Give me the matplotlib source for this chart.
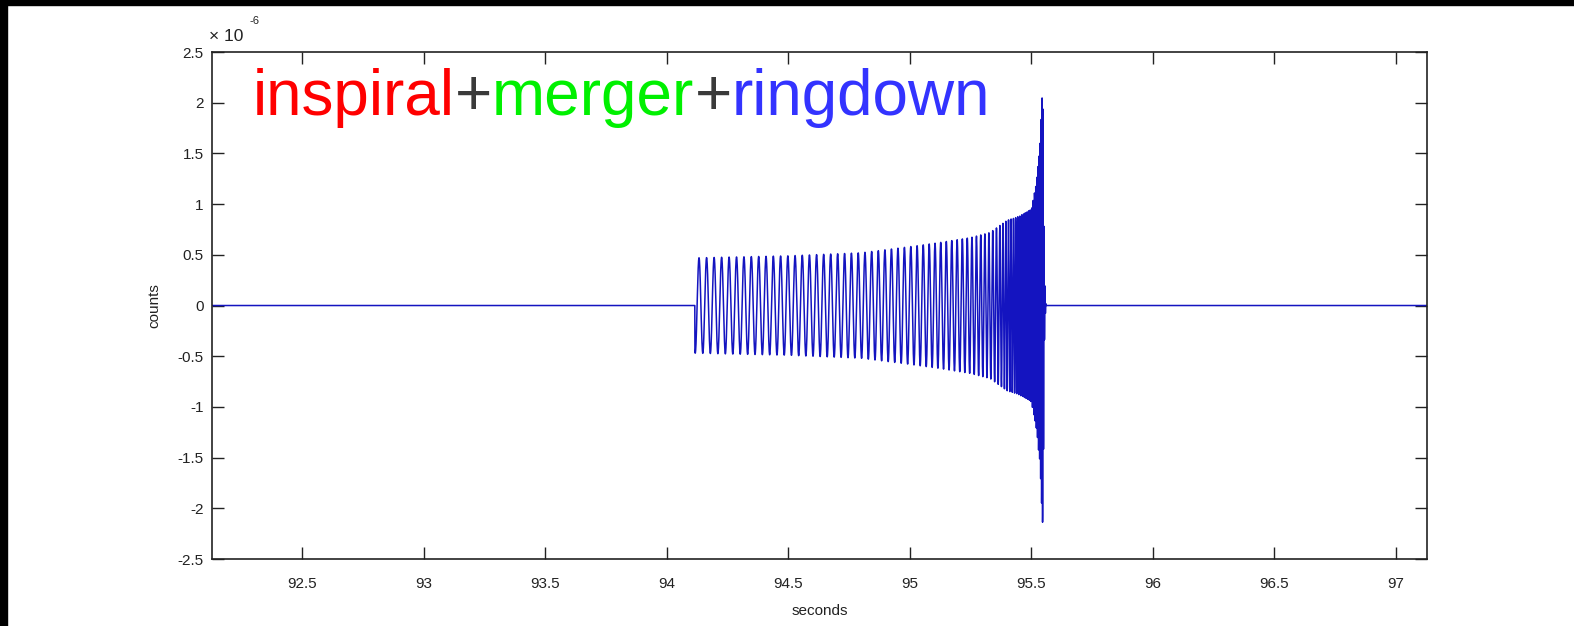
import numpy as np
import matplotlib
matplotlib.use("Agg")
from matplotlib import pyplot as plt
from matplotlib.patches import Rectangle

# envelope of the chirp (time in s, amplitude in 1e-6 counts)
env_t = [94.115, 94.5, 94.8, 95.0, 95.12, 95.25, 95.33, 95.40, 95.45, 95.50,
         95.52, 95.535, 95.543, 95.547, 95.550, 95.553, 95.557, 95.56]
env_a = [0.47, 0.49, 0.52, 0.58, 0.62, 0.67, 0.72, 0.84, 0.88, 0.95,
         1.2, 1.55, 2.0, 2.2, 1.4, 0.4, 0.1, 0.0]

# apparent oscillation frequency along the signal (Hz)
freq_t = [94.115, 94.6, 95.0, 95.2, 95.35, 95.42, 95.5, 95.54, 95.56]
freq_hz = [32, 34, 38, 46, 65, 100, 160, 250, 260]

xlim = [92.128, 97.128]
ylim = [-2.5, 2.5]
xticks = [92.5, 93, 93.5, 94, 94.5, 95, 95.5, 96, 96.5, 97]
yticks = [-2.5, -2, -1.5, -1, -0.5, 0, 0.5, 1, 1.5, 2, 2.5]

fs = 4096


def build_signal():
    t = np.arange(xlim[0], xlim[1], 1.0 / fs)
    inside = (t >= env_t[0]) & (t <= env_t[-1])
    amp = np.where(inside, np.interp(t, env_t, env_a), 0.0)
    f = np.interp(t, freq_t, freq_hz)
    phase = 2 * np.pi * np.cumsum(f) / fs
    phase -= phase[np.argmax(inside)]
    return t, -amp * np.sin(phase + np.pi / 2 - 0.3)


def main():
    plt.rcParams['font.family'] = ['Liberation Sans', 'DejaVu Sans']
    plt.rcParams['axes.unicode_minus'] = False

    fig = plt.figure(figsize=(15.74, 6.26), dpi=100)
    ax = fig.add_axes([0.1347, 0.1070, 0.9066 - 0.1347, 0.9169 - 0.1070])

    t, y = build_signal()
    ax.plot(t, y, color='#1414c0', lw=1.1)

    ax.set_xlim(xlim)
    ax.set_ylim(ylim)
    ax.set_xticks(xticks)
    ax.set_xticklabels([f"{v:g}" for v in xticks])
    ax.set_yticks(yticks)
    ax.set_yticklabels([f"{v:g}" for v in yticks])
    ax.tick_params(direction='in', length=8.5, width=1, top=True, right=True,
                   labelsize=11, colors='#222222', pad=6)
    ax.tick_params(axis='x', pad=13)
    for s in ax.spines.values():
        s.set_linewidth(1.2)
        s.set_color('#222222')

    ax.set_xlabel("seconds", fontsize=11, color='#222222', labelpad=9)
    ax.set_ylabel("counts", fontsize=11, color='#222222', labelpad=12)

    # exponent marker like matlab's
    fig.text(0.1330, 0.935, "\u00d7 10", fontsize=12.5, color='#222222')
    fig.text(0.1585, 0.962, "-6", fontsize=8, color='#222222')

    # coloured title inside the axes
    parts = [("inspiral", '#ff0000'), ("+", '#3a3a3a'),
             ("merger", '#00f000'), ("+", '#3a3a3a'), ("ringdown", '#3333ff')]
    fig.canvas.draw()
    x0 = 253
    renderer = fig.canvas.get_renderer()
    for word, col in parts:
        txt = fig.text(x0 / 1574, 1 - 115 / 626, word, fontsize=46, color=col,
                       va='baseline')
        bb = txt.get_window_extent(renderer)
        x0 += bb.width

    # black frame strips at the top and left of the original picture
    fig.patches.append(Rectangle((0, 1 - 5 / 626), 1, 5 / 626, transform=fig.transFigure,
                                 color='black', zorder=10))
    fig.patches.append(Rectangle((0, 0), 7 / 1574, 1, transform=fig.transFigure,
                                 color='black', zorder=10))

    fig.savefig("out.png", dpi=100)


if __name__ == "__main__":
    main()
